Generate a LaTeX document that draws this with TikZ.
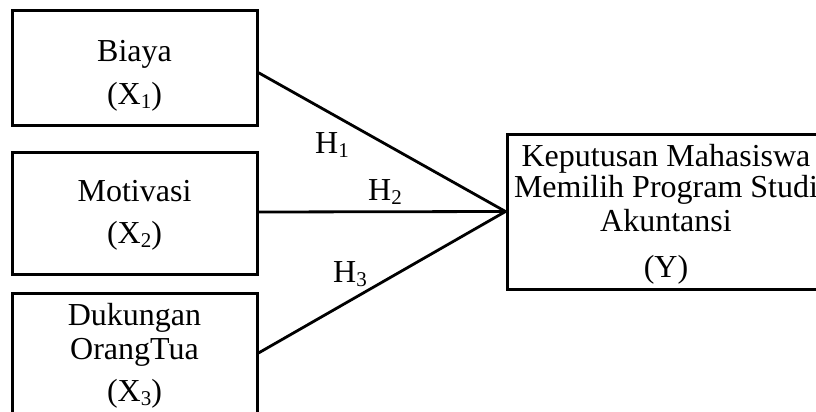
\documentclass[tikz,border=0pt]{standalone}
\usepackage{fontspec}
\setmainfont{Liberation Serif}
\usetikzlibrary{calc}
\newcommand{\mysub}[1]{\raisebox{-0.13em}{\fontsize{21}{24}\selectfont #1}}
\begin{document}
\begin{tikzpicture}[x=1pt,y=-1pt,
  boxst/.style={draw=black,line width=3pt},
  lbl/.style={anchor=base,inner sep=0pt,font=\fontsize{32}{36}\selectfont},
  hl/.style={anchor=base west,inner sep=0pt,font=\fontsize{32}{36}\selectfont},
  conn/.style={draw=black,line width=2.8pt}]
\useasboundingbox (0,0) rectangle (816,412);
\clip (0,0) rectangle (816,412);
\fill[white] (0,0) rectangle (816,412);
% boxes
\node[boxst,minimum width=245pt,minimum height=114pt,inner sep=0pt] (x1) at (134.5,68) {};
\node[boxst,minimum width=245pt,minimum height=122pt,inner sep=0pt] (x2) at (134.5,213) {};
\node[boxst,minimum width=245pt,minimum height=147pt,inner sep=0pt] (x3) at (134.5,366.5) {};
\node[boxst,minimum width=318pt,minimum height=155pt,inner sep=0pt] (y) at (666,211.5) {};
% texts
\node[lbl] (t1a) at (134.5,61) {Biaya};
\node[lbl] (t1b) at (134.5,104) {(X\mysub{1})};
\node[lbl] (t2a) at (134.5,201) {Motivasi};
\node[lbl] (t2b) at (134.5,243) {(X\mysub{2})};
\node[lbl] (t3a) at (134.5,325) {Dukungan};
\node[lbl] (t3b) at (134.5,359) {OrangTua};
\node[lbl] (t3c) at (134.5,401) {(X\mysub{3})};
\node[lbl] (ya) at (666,166) {Keputusan Mahasiswa};
\node[lbl] (yb) at (666,197) {Memilih Program Studi};
\node[lbl] (yc) at (666,231) {Akuntansi};
\node[lbl] (yd) at (666,277) {(Y)};
% connectors
\coordinate (c1) at ($(x1.east)+(0,4.7)$);
\coordinate (c2) at ($(x2.east)+(0,-1)$);
\coordinate (c3) at ($(x3.east)+(0,-13.5)$);
\draw[conn] (c1) -- (y.west);
\draw[conn] (c2) -- (y.west);
\draw[conn] (c3) -- (y.west);
% hypothesis labels
\node[hl] (h1) at (315,153) {H\mysub{1}};
\node[hl] (h2) at (368,200) {H\mysub{2}};
\node[hl] (h3) at (333,282) {H\mysub{3}};
\end{tikzpicture}
\end{document}
